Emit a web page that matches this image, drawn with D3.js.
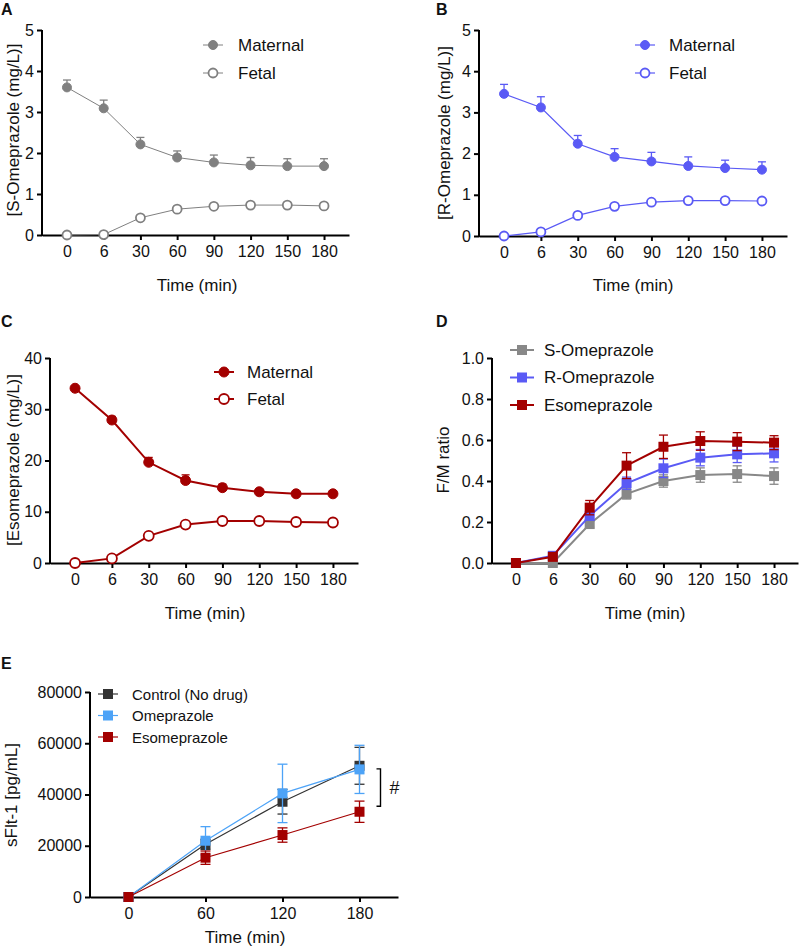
<!DOCTYPE html>
<html><head><meta charset="utf-8">
<script src="https://cdn.jsdelivr.net/npm/d3@7"></script>
<style>
body{margin:0;background:#fff;}
svg text{font-family:"Liberation Sans",Arial,sans-serif;fill:#111;}
</style></head>
<body><svg id="c" width="800" height="947"></svg>
<script>
// ---------- DATA ----------
const timeCats = ["0","6","30","60","90","120","150","180"];

const sMaternal = [3.60,3.09,2.21,1.89,1.77,1.70,1.68,1.68];
const sMaternalErr = [0.18,0.20,0.17,0.16,0.18,0.19,0.18,0.18];
const sFetal = [0,0.01,0.42,0.63,0.70,0.73,0.73,0.71];
const sFetalErr = [0,0,0.02,0.02,0.02,0.02,0.02,0.02];

const rMaternal = [3.45,3.12,2.24,1.92,1.81,1.70,1.65,1.61];
const rMaternalErr = [0.23,0.26,0.20,0.20,0.22,0.22,0.19,0.19];
const rFetal = [0,0.10,0.50,0.72,0.82,0.86,0.86,0.85];
const rFetalErr = [0,0.01,0.02,0.02,0.02,0.02,0.02,0.02];

const eMaternal = [34.1,27.9,19.65,16.1,14.7,13.9,13.5,13.5];
const eMaternalErr = [0.3,0.7,0.95,1.1,0.7,0.5,0.4,0.6];
const eFetal = [0,0.9,5.3,7.5,8.2,8.2,8.0,7.9];
const eFetalErr = [0,0.1,0.2,0.2,0.2,0.2,0.2,0.2];

const ratioS = [0,0,0.19,0.337,0.40,0.429,0.434,0.424];
const ratioSErr = [0.005,0.01,0.015,0.025,0.03,0.035,0.04,0.04];
const ratioR = [0,0.035,0.23,0.389,0.462,0.514,0.53,0.535];
const ratioRErr = [0.005,0.01,0.02,0.03,0.045,0.04,0.04,0.042];
const ratioE = [0,0.03,0.27,0.475,0.567,0.595,0.592,0.587];
const ratioEErr = [0.005,0.01,0.035,0.063,0.057,0.045,0.044,0.034];

const sfltTimes = [0,60,120,180];
const sfltControl = [0,20550,37170,51200];
const sfltControlErr = [0,2000,4800,7200];
const sfltOme = [0,21960,40430,49800];
const sfltOmeErr = [0,5500,11400,9400];
const sfltEso = [0,15340,24180,33270];
const sfltEsoErr = [0,2600,2800,4150];

const ticksConc5 = [0,1,2,3,4,5];
const ticksConc40 = [0,10,20,30,40];
const ticksRatio = [0,0.2,0.4,0.6,0.8,1.0];
const ticksSflt = [0,20000,40000,60000,80000];

// ---------- DRAW ----------
const svg = d3.select("#c");
const GRAY = "#808080", BLUE = "#5a5af5", RED = "#a30000";
const LBLUE = "#4da3f7", DARK = "#333333";

function panel(cfg){
  const g = svg.append("g");
  let x;
  if (cfg.linear) {
    x = d3.scaleLinear().domain(cfg.xDomain).range([cfg.x0, cfg.x1]);
  } else {
    x = d3.scalePoint().domain(timeCats).range([cfg.x0, cfg.x1]).padding(cfg.pad);
  }
  const y = d3.scaleLinear().domain([0, cfg.yMax]).range([cfg.yBot, cfg.yTop]);

  const xa = g.append("g").attr("transform",`translate(0,${cfg.yBot})`)
    .call((cfg.linear ? d3.axisBottom(x).tickValues(cfg.xTicks) : d3.axisBottom(x))
      .tickSize(5).tickPadding(6).tickSizeOuter(0));
  const ya = g.append("g").attr("transform",`translate(${cfg.x0},0)`)
    .call(d3.axisLeft(y).tickValues(cfg.yTicks).tickFormat(cfg.fmt).tickSize(5).tickPadding(3).tickSizeOuter(0));
  [xa,ya].forEach(a=>{
    a.selectAll("path,line").attr("stroke","#000").attr("stroke-width",2);
    a.selectAll("text").attr("font-size",16).attr("fill","#111")
      .style("font-family",'"Liberation Sans",Arial,sans-serif');
  });
  ya.select("path").attr("d",`M${0},${cfg.yTop}V${cfg.yBot+1}`);

  g.append("text").attr("transform",`translate(${cfg.ylx},${cfg.yly}) rotate(-90)`)
    .attr("text-anchor","middle").attr("dominant-baseline","central")
    .attr("font-size",cfg.ylfs||17).text(cfg.ylabel);
  g.append("text").attr("x",cfg.xlx).attr("y",cfg.xly)
    .attr("text-anchor","middle").attr("dominant-baseline","central")
    .attr("font-size",17).text("Time (min)");

  const xs = cfg.linear ? sfltTimes : timeCats;
  cfg.series.forEach(s=>{
    const pts = s.vals.map((v,i)=>({x:x(xs[i]), v, e:s.errs[i]}));
    const sg = g.append("g");
    pts.forEach(p=>{
      if (p.e<=0) return;
      const top = y(p.v+p.e), bot = s.both ? y(Math.max(0,p.v-p.e)) : y(p.v);
      sg.append("line").attr("x1",p.x).attr("x2",p.x).attr("y1",top).attr("y2",bot)
        .attr("stroke",s.color).attr("stroke-width",s.ew||1.3);
      sg.append("line").attr("x1",p.x-s.cap).attr("x2",p.x+s.cap).attr("y1",top).attr("y2",top)
        .attr("stroke",s.color).attr("stroke-width",s.ew||1.3);
      if (s.both) sg.append("line").attr("x1",p.x-s.cap).attr("x2",p.x+s.cap).attr("y1",bot).attr("y2",bot)
        .attr("stroke",s.color).attr("stroke-width",s.ew||1.3);
    });
    sg.append("path").datum(pts)
      .attr("d",d3.line().x(p=>p.x).y(p=>y(p.v)))
      .attr("fill","none").attr("stroke",s.color).attr("stroke-width",s.lw);
    pts.forEach(p=>marker(sg,p.x,y(p.v),s));
  });

  cfg.series.forEach((s,i)=>{
    const ly = cfg.leg.y0 + i*cfg.leg.dy;
    g.append("line").attr("x1",cfg.leg.mx-cfg.leg.half).attr("x2",cfg.leg.mx+cfg.leg.half)
      .attr("y1",ly).attr("y2",ly).attr("stroke",s.color).attr("stroke-width",s.lw);
    marker(g,cfg.leg.mx,ly,s);
    g.append("text").attr("x",cfg.leg.tx).attr("y",ly).attr("dominant-baseline","central")
      .attr("font-size",cfg.leg.fs).text(s.name);
  });

  g.append("text").attr("x",cfg.lx).attr("y",cfg.ly).attr("font-size",16)
    .attr("font-weight","bold").attr("fill","#000").text(cfg.letter);
  return {g,x,y};
}

function marker(sel,cx,cy,s){
  if (s.shape==="circle"){
    sel.append("circle").attr("cx",cx).attr("cy",cy).attr("r",s.r)
      .attr("fill",s.open?"#fff":s.color).attr("stroke",s.color).attr("stroke-width",s.open?1.8:1);
  } else {
    sel.append("rect").attr("x",cx-s.r).attr("y",cy-s.r).attr("width",2*s.r).attr("height",2*s.r)
      .attr("fill",s.color);
  }
}

panel({letter:"A",lx:1,ly:15,x0:42,x1:349,pad:0.68,yTop:30,yBot:235,yMax:5,yTicks:ticksConc5,fmt:d3.format("d"),
  ylabel:"[S-Omeprazole (mg/L)]",ylx:13,yly:130,xlx:197,xly:285,
  leg:{mx:213,half:10,tx:238,y0:45,dy:28,fs:17},
  series:[
    {name:"Maternal",vals:sMaternal,errs:sMaternalErr,color:GRAY,shape:"circle",r:4.5,lw:1,cap:4},
    {name:"Fetal",vals:sFetal,errs:sFetalErr,color:GRAY,shape:"circle",r:4.5,open:true,lw:1,cap:4}
  ]});

panel({letter:"B",lx:436,ly:15,x0:479,x1:787,pad:0.68,yTop:30,yBot:236,yMax:5,yTicks:ticksConc5,fmt:d3.format("d"),
  ylabel:"[R-Omeprazole (mg/L)]",ylx:444,yly:133,xlx:633,xly:285,
  leg:{mx:645,half:10,tx:669,y0:45,dy:28,fs:17},
  series:[
    {name:"Maternal",vals:rMaternal,errs:rMaternalErr,color:BLUE,shape:"circle",r:4.5,lw:1.2,cap:4},
    {name:"Fetal",vals:rFetal,errs:rFetalErr,color:BLUE,shape:"circle",r:4.5,open:true,lw:1.2,cap:4}
  ]});

panel({letter:"C",lx:1,ly:327,x0:50,x1:358,pad:0.68,yTop:358,yBot:563,yMax:40,yTicks:ticksConc40,fmt:d3.format("d"),
  ylabel:"[Esomeprazole (mg/L)]",ylx:13,yly:460,xlx:205,xly:613,
  leg:{mx:224,half:10,tx:247,y0:372,dy:27,fs:17},
  series:[
    {name:"Maternal",vals:eMaternal,errs:eMaternalErr,color:RED,shape:"circle",r:5,lw:2,cap:4},
    {name:"Fetal",vals:eFetal,errs:eFetalErr,color:RED,shape:"circle",r:5,open:true,lw:2,cap:4}
  ]});

panel({letter:"D",lx:436,ly:327,x0:492,x1:798,pad:0.65,yTop:358,yBot:563,yMax:1,yTicks:ticksRatio,fmt:d3.format(".1f"),
  ylabel:"F/M ratio",ylx:443,yly:460,ylfs:17,xlx:645,xly:613,
  leg:{mx:522,half:12,tx:544,y0:350,dy:27.5,fs:17},
  series:[
    {name:"S-Omeprazole",vals:ratioS,errs:ratioSErr,color:"#888888",shape:"square",r:5,lw:2,cap:4.5,both:true},
    {name:"R-Omeprazole",vals:ratioR,errs:ratioRErr,color:BLUE,shape:"square",r:5,lw:2,cap:4.5,both:true},
    {name:"Esomeprazole",vals:ratioE,errs:ratioEErr,color:RED,shape:"square",r:5,lw:2,cap:4.5,both:true}
  ]});

const pe = panel({letter:"E",lx:1,ly:669,linear:true,xDomain:[-30,210],xTicks:sfltTimes,x0:90,x1:398,
  yTop:692,yBot:897,yMax:80000,yTicks:ticksSflt,fmt:d3.format("d"),
  ylabel:"sFlt-1 [pg/mL]",ylx:11,yly:795,ylfs:17,xlx:245,xly:937,
  leg:{mx:108,half:10,tx:132,y0:694,dy:21.5,fs:15},
  series:[
    {name:"Control (No drug)",vals:sfltControl,errs:sfltControlErr,color:DARK,shape:"square",r:5,lw:1.2,cap:5,both:true},
    {name:"Omeprazole",vals:sfltOme,errs:sfltOmeErr,color:LBLUE,shape:"square",r:5,lw:1.2,cap:5,both:true},
    {name:"Esomeprazole",vals:sfltEso,errs:sfltEsoErr,color:RED,shape:"square",r:5,lw:1.2,cap:5,both:true}
  ]});

const bx = pe.x(180) + 21, bTop = pe.y(50000), bBot = pe.y(35400);
pe.g.append("path").attr("d",`M${bx-4},${bTop}H${bx}V${bBot}H${bx-4}`)
  .attr("fill","none").attr("stroke","#000").attr("stroke-width",1.4);
pe.g.append("text").attr("x",bx+9).attr("y",(bTop+bBot)/2).attr("dominant-baseline","central")
  .attr("font-size",18).text("#");
</script></body></html>
